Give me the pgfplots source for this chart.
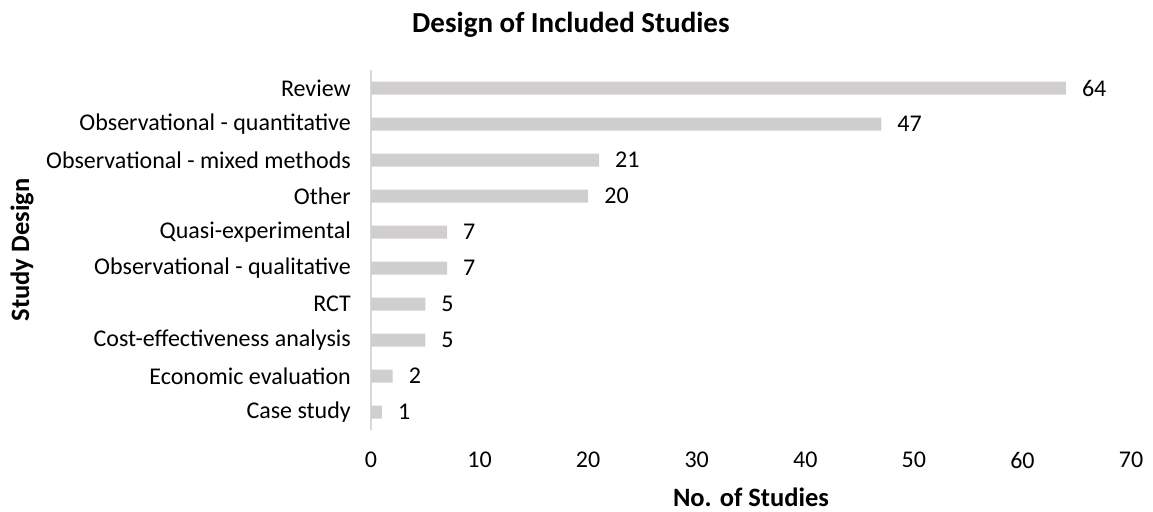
\documentclass[border=0pt]{standalone}
\usepackage{fontspec}
\setmainfont{Carlito}
\usepackage{pgfplots}
\pgfplotsset{compat=1.18}
\definecolor{barfill}{HTML}{D0CECE}
\definecolor{axgray}{HTML}{D9D9D9}
\begin{document}
\begin{tikzpicture}
\useasboundingbox (0,0) rectangle (1153pt,-511pt);
\begin{axis}[
  at={(371pt,-430pt)}, anchor=south west,
  scale only axis, width=760pt, height=360pt,
  xbar, bar width=13pt,
  xmin=0, xmax=70, ymin=-0.5, ymax=9.5,
  xtick={0,10,...,70},
  ytick={0,...,9},
  yticklabels={Case study,Economic evaluation,Cost-effectiveness analysis,RCT,Observational - qualitative,Quasi-experimental,Other,Observational - mixed methods,Observational - quantitative,Review},
  axis y line*=left, axis x line*=bottom,
  x axis line style={draw=none},
  y axis line style={draw=axgray, line width=1.2pt, -},
  major tick length=0,
  font=\fontsize{24}{28}\selectfont,
  /pgf/number format/assume math mode=true,
  xticklabel style={inner sep=0pt, anchor=north, yshift=-22pt},
  yticklabel style={inner sep=0pt, anchor=east, xshift=-20pt},
  title={\bfseries Design of Included Studies},
  title style={at={(axis description cs:0.263,1.11)}, anchor=center, inner sep=0pt, font=\fontsize{29}{34}\selectfont},
  xlabel={\bfseries No. of Studies},
  xlabel style={at={(axis description cs:0.5,-0.186)}, anchor=center, inner sep=0pt, font=\fontsize{26.5}{31}\selectfont},
  ylabel={\bfseries Study Design},
  ylabel style={at={(axis description cs:-0.459,0.5)}, anchor=center, inner sep=0pt, font=\fontsize{26.5}{31}\selectfont},
  nodes near coords,
  nodes near coords style={anchor=west, inner sep=0pt, xshift=16pt, font=\fontsize{24}{28}\selectfont},
]
\addplot[draw=none, fill=barfill] coordinates {
  (1,0) (2,1) (5,2) (5,3) (7,4) (7,5) (20,6) (21,7) (47,8) (64,9)
};
\end{axis}
\end{tikzpicture}
\end{document}
